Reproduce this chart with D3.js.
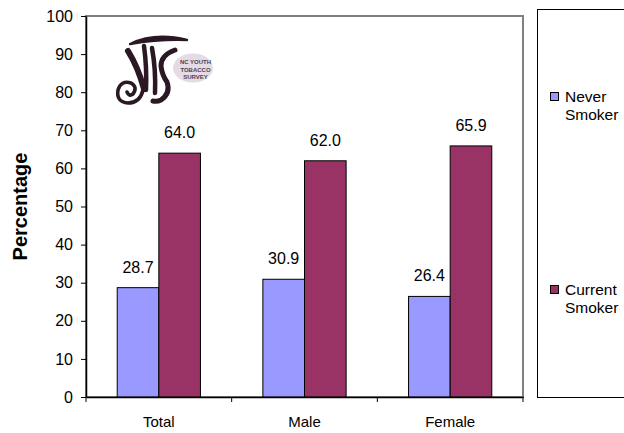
<!DOCTYPE html>
<html>
<head>
<meta charset="utf-8">
<script src="https://cdn.jsdelivr.net/npm/d3@7"></script>
<style>
  html, body { margin: 0; padding: 0; background: #fff; }
  svg { display: block; font-family: Arial, "Liberation Sans", sans-serif; }
</style>
</head>
<body>
<svg id="chart" width="624" height="433"></svg>
<script>
// ---- data ----
const categories = ["Total", "Male", "Female"];
const seriesNames = ["Never Smoker", "Current Smoker"];
const neverSmoker = [28.7, 30.9, 26.4];
const currentSmoker = [64.0, 62.0, 65.9];
const yTicks = [0, 10, 20, 30, 40, 50, 60, 70, 80, 90, 100];
const yTitle = "Percentage";

const seriesValues = [neverSmoker, currentSmoker];
const colors = ["#9999ff", "#993366"];
const FONT = "Arial, 'Liberation Sans', sans-serif";

const svg = d3.select("#chart");
const pLeft = 86, pRight = 523, pTop = 16, pBottom = 397;

const x = d3.scaleBand().domain(categories).range([pLeft, pRight]).paddingInner(0).paddingOuter(0);
const y = d3.scaleLinear().domain([0, 100]).range([pBottom, pTop]);

const bw = x.bandwidth();
const barW = bw / 3.5;
const xs = d3.scaleBand().domain(seriesNames).range([(bw - 2 * barW) / 2, (bw + 2 * barW) / 2]);

// plot area border (grey)
svg.append("rect")
  .attr("x", pLeft).attr("y", pTop)
  .attr("width", pRight - pLeft).attr("height", pBottom - pTop)
  .attr("fill", "#fff").attr("stroke", "#808080").attr("stroke-width", 2);

// logo
const logo = svg.append("g").attr("transform", "translate(105,30)");
logo.append("ellipse").attr("cx", 88).attr("cy", 38).attr("rx", 20).attr("ry", 14.5).attr("fill", "#e4dbe6");
const dark = "#2b1824";
logo.append("path").attr("d", "M25,14 Q50,2 82,10 Q54,9 25,14 Z").attr("fill", dark).attr("stroke", dark).attr("stroke-width", 2.4).attr("stroke-linejoin", "round");
logo.append("path").attr("d", "M23,21 Q33,37 39,59").attr("fill", "none").attr("stroke", dark).attr("stroke-width", 6).attr("stroke-linecap", "round");
logo.append("path").attr("d", "M38,60 Q35,73 23,73 Q11,72 13,60 Q16,50 26,53 Q33,57 28,64 Q24,67 22,62").attr("fill", "none").attr("stroke", dark).attr("stroke-width", 3.6).attr("stroke-linecap", "round");
logo.append("path").attr("d", "M39,16 Q42,38 41,60").attr("fill", "none").attr("stroke", dark).attr("stroke-width", 4.5).attr("stroke-linecap", "round");
logo.append("path").attr("d", "M47,18 Q51,40 50,63").attr("fill", "none").attr("stroke", dark).attr("stroke-width", 4.5).attr("stroke-linecap", "round");
logo.append("path").attr("d", "M70,20 Q56,25 56,36 Q57,45 62,52 Q66,63 56,70 Q52,72 48,71").attr("fill", "none").attr("stroke", dark).attr("stroke-width", 5).attr("stroke-linecap", "round");
const lt = logo.append("text").attr("text-anchor", "middle").attr("font-size", 6).attr("font-weight", "bold").attr("fill", "#4e3f4c").attr("font-family", FONT);
["NC YOUTH", "TOBACCO", "SURVEY"].forEach((t, i) => {
  lt.append("tspan").attr("x", 90.5).attr("y", 34 + i * 7.5).text(t);
});

// bars
const groups = svg.append("g").selectAll("g").data(categories).join("g")
  .attr("transform", d => `translate(${x(d)},0)`);
seriesNames.forEach((s, si) => {
  groups.append("rect")
    .attr("x", xs(s)).attr("width", xs.bandwidth())
    .attr("y", (d, i) => y(seriesValues[si][i]))
    .attr("height", (d, i) => y(0) - y(seriesValues[si][i]))
    .attr("fill", colors[si]).attr("stroke", "#000").attr("stroke-width", 1);
  groups.append("text")
    .attr("x", xs(s) + xs.bandwidth() / 2)
    .attr("y", (d, i) => y(seriesValues[si][i]) - 15)
    .attr("text-anchor", "middle").attr("font-size", 16).attr("fill", "#000")
    .text((d, i) => seriesValues[si][i].toFixed(1));
});

// y axis
const yAxis = svg.append("g").attr("transform", `translate(${pLeft},0)`)
  .call(d3.axisLeft(y).tickValues(yTicks).tickSize(5).tickSizeOuter(0).tickPadding(8));
yAxis.select(".domain").attr("stroke", "#000").attr("stroke-width", 1.5);
yAxis.selectAll(".tick line").attr("stroke", "#000");
yAxis.selectAll(".tick text").attr("font-size", 16).attr("font-family", FONT).attr("fill", "#000");

// x axis
const xAxis = svg.append("g").attr("transform", `translate(0,${pBottom})`)
  .call(d3.axisBottom(x).tickSize(0).tickPadding(19));
xAxis.select(".domain").attr("stroke", "#000").attr("stroke-width", 1.5);
xAxis.selectAll(".tick text").attr("font-size", 15).attr("font-family", FONT).attr("fill", "#000");
// category boundary ticks
svg.append("g").selectAll("line").data(categories.concat(["__end"])).join("line")
  .attr("x1", (d, i) => pLeft + i * bw).attr("x2", (d, i) => pLeft + i * bw)
  .attr("y1", pBottom).attr("y2", pBottom + 5)
  .attr("stroke", "#000").attr("stroke-width", 1);

// y title
svg.append("text")
  .attr("transform", `translate(27,${(pTop + pBottom) / 2}) rotate(-90)`)
  .attr("text-anchor", "middle").attr("font-size", 20).attr("font-weight", "bold")
  .text(yTitle);

// legend
svg.append("rect").attr("x", 537.5).attr("y", 9.5).attr("width", 100).attr("height", 388)
  .attr("fill", "#fff").attr("stroke", "#000").attr("stroke-width", 1);
const legendY = [92, 285];
seriesNames.forEach((s, i) => {
  svg.append("rect").attr("x", 550.5).attr("y", legendY[i] + 0.5).attr("width", 8).attr("height", 8)
    .attr("fill", colors[i]).attr("stroke", "#000").attr("stroke-width", 1);
  const words = s.split(" ");
  const t = svg.append("text").attr("font-size", 15.5).attr("fill", "#000");
  words.forEach((w, j) => {
    t.append("tspan").attr("x", 565).attr("y", legendY[i] + 9.5 + j * 18).text(w);
  });
});
</script>
</body>
</html>
